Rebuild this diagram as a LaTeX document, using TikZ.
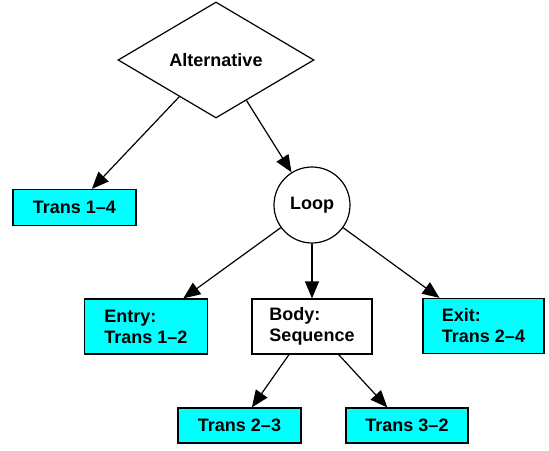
\documentclass[tikz,border=0pt]{standalone}
\usepackage{fontspec}
\setmainfont{Liberation Sans}
\usetikzlibrary{shapes.geometric,arrows.meta,calc}
\definecolor{transfill}{RGB}{0,255,255}
\begin{document}
\begin{tikzpicture}[x=1pt,y=-1pt,
  every node/.style={font=\fontsize{18}{21}\selectfont\bfseries, line width=1.2pt, draw=black},
  trans/.style={rectangle, fill=transfill, minimum width=123pt, minimum height=36pt, inner sep=0pt},
  pair/.style={rectangle, minimum width=123pt, minimum height=55pt, inner sep=0pt, align=left},
  edge/.style={line width=1.2pt, -{Triangle[length=17pt,width=14pt]}}]
\useasboundingbox (0,0) rectangle (549,450);

% control structure
\node[diamond, aspect=1.69, minimum width=196pt, minimum height=116pt, inner sep=0pt] (alt) at (216,60) {Alternative};
\node[circle, minimum size=76pt, inner sep=0pt] (loop) at (312,205) {Loop};

% transitions and parts
\node[trans] (t14) at (74.5,207.5) {Trans 1--4};
\node[pair, fill=transfill] (entry) at (146,326.5) {Entry:\\Trans 1--2};
\node[pair, fill=white, minimum width=120pt] (body) at (312,326.5) {Body:\\Sequence};
\node[pair, fill=transfill, minimum width=121pt] (exit) at (483.5,326) {Exit:\\Trans 2--4};
\node[trans, minimum height=35pt] (t23) at (239.5,425.5) {Trans 2--3};
\node[trans, minimum height=35pt, minimum width=122pt] (t32) at (407,425.5) {Trans 3--2};

% connectors
\draw[edge] (alt.225) -- ($(t14.north west)!0.64!(t14.north east)$);
\draw[edge] (alt.-53) -- (loop);
\draw[edge] (loop) -- ($(entry.north west)!0.8!(entry.north east)$);
\draw[edge] (loop) -- (body.north);
\draw[edge] (loop) -- ($(exit.north west)!0.14!(exit.north east)$);
\draw[edge] ($(body.south west)!0.31!(body.south east)$) -- ($(t23.north west)!0.6!(t23.north east)$);
\draw[edge] ($(body.south west)!0.72!(body.south east)$) -- ($(t32.north west)!0.34!(t32.north east)$);
\end{tikzpicture}
\end{document}
